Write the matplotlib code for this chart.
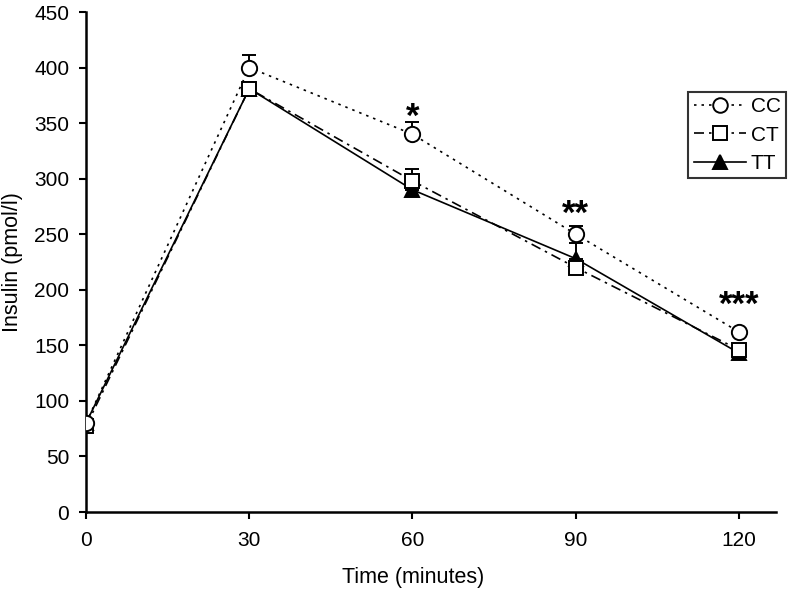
import matplotlib
matplotlib.use("Agg")
import matplotlib.pyplot as plt
from matplotlib.lines import Line2D

plt.rcParams['font.family'] = ['Liberation Sans', 'DejaVu Sans']

time = [0, 30, 60, 90, 120]
cc = [80, 400, 340, 250, 162]
ct = [77, 381, 298, 220, 146]
tt = [80, 381, 290, 228, 143]
cc_err = [2, 11, 11, 7, 3]
ct_err = [2, 6, 11, 4, 3]
tt_err = [2, 4, 4, 14, 3]
stars = ["", "", "*", "**", "***"]
star_levels = [None, None, 347, 259, 177]
x_ticks = [0, 30, 60, 90, 120]
y_ticks = [0, 50, 100, 150, 200, 250, 300, 350, 400, 450]

W, H = 788, 594
fig = plt.figure(figsize=(W / 100, H / 100), dpi=100)
ax = fig.add_axes([86 / W, 1 - 512 / H, 690 / W, 500 / H])

lw = 1.2
styles = {
    'TT': dict(ls='-', marker='^', ms=10, mfc='black'),
    'CT': dict(ls=(0, (6, 3, 1.5, 3)), marker='s', ms=10, mfc='white'),
    'CC': dict(ls=(0, (1.5, 3)), marker='o', ms=11, mfc='white'),
}
series = [('TT', tt, tt_err, 3), ('CT', ct, ct_err, 4), ('CC', cc, cc_err, 5)]
for name, vals, err, z in series:
    st = styles[name]
    ax.errorbar(time, vals, yerr=[[0]*5, err], color='black', lw=lw, ls=st['ls'],
                marker=st['marker'], ms=st['ms'], mfc=st['mfc'], mec='black', mew=1.4,
                capsize=5, elinewidth=1.4, capthick=1.4, zorder=z)

for t, lvl, s in zip(time, star_levels, stars):
    if s:
        ax.text(t, lvl, s, ha='center', va='baseline', fontsize=25, fontweight='bold')

ax.set_xlim(0, 126.8)
ax.set_ylim(0, 450)
ax.set_xticks(x_ticks)
ax.set_yticks(y_ticks)
ax.tick_params(direction='out', length=5, width=1.5, labelsize=15)
ax.tick_params(axis='y', pad=7)
ax.tick_params(axis='x', pad=9)
for side in ['top', 'right']:
    ax.spines[side].set_visible(False)
for side in ['left', 'bottom']:
    ax.spines[side].set_linewidth(1.8)
ax.set_xlabel('Time (minutes)', fontsize=15.5)
ax.set_ylabel('Insulin (pmol/l)', fontsize=15.5)
ax.xaxis.set_label_coords((413 - 86) / 690, -(578 - 512) / 500)
ax.yaxis.set_label_coords(-(86 - 13) / 690, 0.5)
ax.xaxis.label.set_va('center')
ax.yaxis.label.set_va('center')

handles = []
for name in ['CC', 'CT', 'TT']:
    st = styles[name]
    handles.append(Line2D([], [], color='black', lw=lw, ls=st['ls'], marker=st['marker'],
                          ms=st['ms'] - 0.5, mfc=st['mfc'], mec='black', mew=1.4))
leg = ax.legend(handles, ['CC', 'CT', 'TT'],
                loc='upper right', bbox_to_anchor=(786 / W, 1 - 92 / H),
                bbox_transform=fig.transFigure, fontsize=15,
                frameon=True, fancybox=False, edgecolor='black', handlelength=2.5,
                handletextpad=0.25, borderpad=0.25, labelspacing=0.45, borderaxespad=0)
leg.get_frame().set_linewidth(1.5)

fig.savefig('out.png', dpi=100)
